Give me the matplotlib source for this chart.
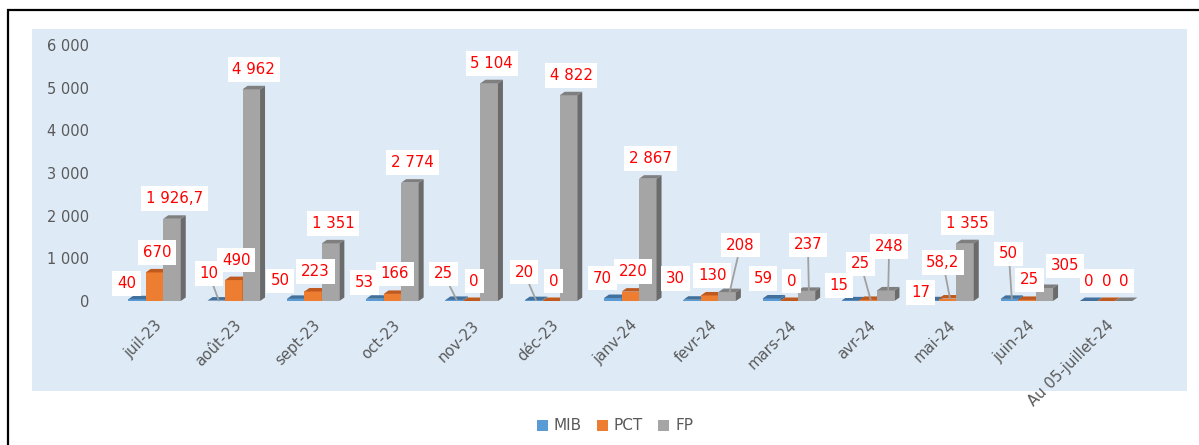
import matplotlib
matplotlib.use("Agg")
import matplotlib.pyplot as plt
from matplotlib.patches import Polygon, Rectangle, Patch

categories = ['juil-23', 'août-23', 'sept-23', 'oct-23', 'nov-23', 'déc-23', 'janv-24',
              'fevr-24', 'mars-24', 'avr-24', 'mai-24', 'juin-24', 'Au 05-juillet-24']
mib = [40, 10, 50, 53, 25, 20, 70, 30, 59, 15, 17, 50, 0]
pct = [670, 490, 223, 166, 0, 0, 220, 130, 0, 25, 58.2, 25, 0]
fp = [1926.7, 4962, 1351, 2774, 5104, 4822, 2867, 208, 237, 248, 1355, 305, 0]
series_names = ['MIB', 'PCT', 'FP']
yticks = [0, 1000, 2000, 3000, 4000, 5000, 6000]

# styles
front = ['#5B9BD5', '#ED7D31', '#A5A5A5']
top = ['#41719C', '#C0591E', '#7F7F7F']
side = ['#3E6C96', '#B0521C', '#6B6B6B']
tick_color = '#595959'

# label offsets (pixels) relative to bar top; default (0, 20)
label_offsets = {(0, 0): (-13, 16), (1, 0): (-10, 27), (2, 0): (-18, 18), (3, 0): (-13, 16),
                 (4, 0): (-13, 26), (5, 0): (-12, 28), (6, 0): (-13, 20), (7, 0): (-19, 21),
                 (7, 2): (11, 47), (8, 0): (-11, 20), (8, 2): (-1, 46), (9, 0): (-14, 15),
                 (9, 1): (-10, 36), (9, 2): (1, 44), (10, 0): (-12, 8), (10, 1): (-7, 36),
                 (11, 0): (-3, 45), (11, 2): (18, 22), (12, 0): (-2, 20), (12, 1): (-2, 20),
                 (12, 2): (-2, 20)}
leaders = {(1, 0), (4, 0), (5, 0), (7, 2), (8, 2), (9, 1), (9, 2), (10, 1), (11, 0)}

W, H = 1199, 445
fig = plt.figure(figsize=(W / 100, H / 100), dpi=100)

# outer frame and panel
fig.patches.append(Rectangle((8 / W, -0.05), 1.1, 1 - 10 / H + 0.05, transform=fig.transFigure,
                             facecolor='white', edgecolor='black', lw=1.6, zorder=-2))
fig.patches.append(Rectangle((32 / W, 1 - 391 / H), (1187 - 32) / W, (391 - 29) / H,
                             transform=fig.transFigure, facecolor='#DEEBF7', edgecolor='none', zorder=-1))

px_per_unit = 79.3
xmin, xmax = -0.7, 12.6
left_px = 154.5 + xmin * px_per_unit
right_px = 154.5 + xmax * px_per_unit
ax = fig.add_axes([left_px / W, (H - 301) / H, (right_px - left_px) / W, 256 / H])
ax.set_zorder(5)
ax.set_facecolor('none')
ax.set_xlim(xmin, xmax)
ax.set_ylim(0, 6000)
for sp in ax.spines.values():
    sp.set_visible(False)

w = 17.5 / px_per_unit
dx = 5 / px_per_unit
dy = 3.5 * 6000 / 256

def fmt(v):
    if float(v).is_integer():
        return f"{int(v):,}".replace(',', ' ')
    return f"{v:,.1f}".replace(',', ' ').replace('.', ',')

all_series = [mib, pct, fp]
for i in range(len(categories)):
    for s, vals in enumerate(all_series):
        v = vals[i]
        xc = i + (s - 1) * w
        x0, x1 = xc - w / 2, xc + w / 2
        z = 3 + s * 0.1 + i
        ax.bar(xc, v, width=w, color=front[s], zorder=z)
        ax.add_patch(Polygon([(x1, 0), (x1 + dx, dy), (x1 + dx, v + dy), (x1, v)],
                             closed=True, facecolor=side[s], edgecolor='none', zorder=z))
        ax.add_patch(Polygon([(x0, v), (x1, v), (x1 + dx, v + dy), (x0 + dx, v + dy)],
                             closed=True, facecolor=top[s], edgecolor='none', zorder=z))

for i in range(len(categories)):
    for s, vals in enumerate(all_series):
        v = vals[i]
        xc = i + (s - 1) * w
        off = label_offsets.get((i, s), (0, 20))
        ap = None
        if (i, s) in leaders:
            ap = dict(arrowstyle='-', color='#A0A0A0', lw=1.3, shrinkA=0, shrinkB=0)
        ax.annotate(fmt(v), xy=(xc + dx / 2, v), xytext=off, textcoords='offset pixels',
                    ha='center', va='center', fontsize=10.8, color='#FF0000',
                    bbox=dict(boxstyle='square,pad=0.32', facecolor='white', edgecolor='none'),
                    arrowprops=ap, zorder=50)

ax.set_yticks(yticks)
ax.set_yticklabels([fmt(t) for t in yticks], fontsize=10.5, color=tick_color)
ax.tick_params(axis='y', length=0, pad=7)
ax.set_xticks(range(len(categories)))
ax.set_xticklabels(categories, rotation=45, ha='right', va='top', rotation_mode='anchor',
                   fontsize=10.7, color=tick_color)
ax.tick_params(axis='x', length=0, pad=12)

handles = [Patch(facecolor=c, edgecolor='none') for c in front]
fig.legend(handles, series_names, loc='center', bbox_to_anchor=(615 / W, 1 - 426 / H), ncol=3,
           frameon=False, fontsize=11, labelcolor=tick_color, handlelength=0.7, handleheight=0.7,
           handletextpad=0.4, columnspacing=1.0)

fig.savefig('out.png', dpi=100)
